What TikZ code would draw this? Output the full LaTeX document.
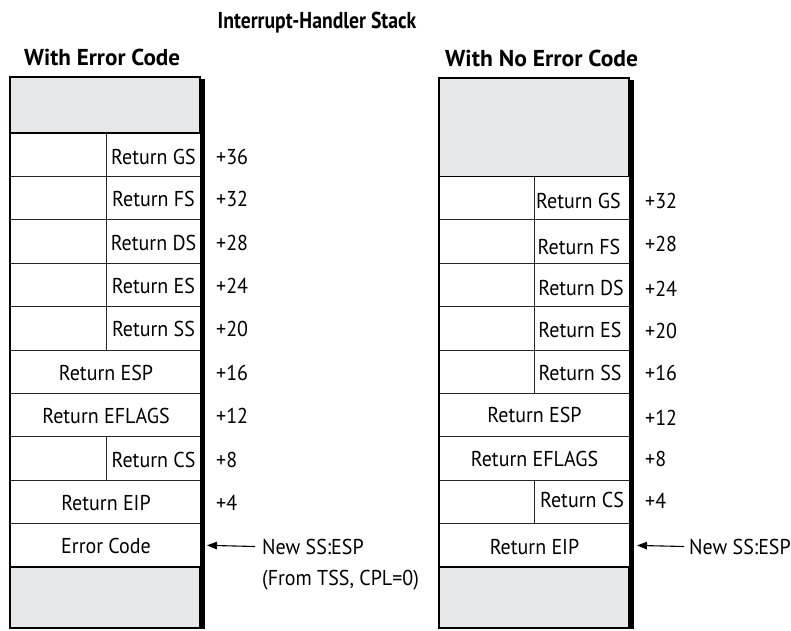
\documentclass[tikz,border=0pt]{standalone}
\usepackage{fontspec}
\setmainfont[FakeStretch=0.93]{PT Sans}
\usetikzlibrary{arrows.meta}
\definecolor{stackgray}{HTML}{E6E7E8}
\begin{document}
\begin{tikzpicture}[x=1pt,y=-1pt,
  cell/.style={draw=black!85, line width=1pt, inner sep=0pt, outer sep=0pt, anchor=north west, minimum height=43.4pt},
  lA/.style={cell, minimum width=96pt},
  lB/.style={cell, minimum width=94pt},
  rA/.style={cell, minimum width=95pt},
  rB/.style={cell, minimum width=95pt},
  full/.style={cell, minimum width=190pt},
  graybox/.style={draw=black, fill=stackgray, line width=1.8pt, inner sep=0pt, outer sep=0pt, anchor=north west, minimum width=190pt},
  lab/.style={font=\fontsize{21.5}{26}\selectfont, inner sep=0pt, text height=15pt, text depth=0pt},
  off/.style={lab, anchor=west},
  head/.style={font=\fontsize{23}{28}\selectfont\bfseries, inner sep=0pt, text height=16pt, text depth=0pt},
  frame/.style={line width=1.8pt},
  ptr/.style={-{Triangle[length=10pt,width=7.5pt]}, line width=1.1pt}
]
\useasboundingbox (0,0) rectangle (791,630);

% titles
\node[head] (title) at (317,20) {\scalebox{0.92}[1]{Interrupt-Handler Stack}};
\node[head, anchor=west] (hL) at (24,57.5) {\scalebox{1.08}[1]{With Error Code}};
\node[head, anchor=west] (hR) at (445,58.5) {\scalebox{1.1}[1]{With No Error Code}};

% ---------------- left stack ----------------
\node[lA] (l0a) at (10,133) {};   \node[lB] (l0) at (106,133) {};
\node[lA] (l1a) at (10,176.4) {}; \node[lB] (l1) at (106,176.4) {};
\node[lA] (l2a) at (10,219.8) {}; \node[lB] (l2) at (106,219.8) {};
\node[lA] (l3a) at (10,263.2) {}; \node[lB] (l3) at (106,263.2) {};
\node[lA] (l4a) at (10,306.6) {}; \node[lB] (l4) at (106,306.6) {};
\node[full] (l5) at (10,350) {};
\node[full] (l6) at (10,393.4) {};
\node[lA] (l7a) at (10,436.8) {}; \node[lB] (l7) at (106,436.8) {};
\node[full] (l8) at (10,480.2) {};
\node[full] (l9) at (10,523.6) {};
\node[graybox, minimum height=56pt] (ltop) at (10,77) {};
\node[graybox, minimum height=61pt] (lbot) at (10,567) {};

\node[lab] (tl0) at (153.5,156.5) {Return GS};
\node[lab] (tl1) at (153.5,199.1) {Return FS};
\node[lab] (tl2) at (153.5,242.5) {Return DS};
\node[lab] (tl3) at (153.5,285.9) {Return ES};
\node[lab] (tl4) at (153.5,329) {Return SS};
\node[lab] (tl5) at (106,372.5) {Return ESP};
\node[lab] (tl6) at (106,416.1) {Return EFLAGS};
\node[lab] (tl7) at (153.5,459.5) {Return CS};
\node[lab] (tl8) at (106,502.9) {Return EIP};
\node[lab] (tl9) at (106,546.3) {Error Code};

\node[off] (ol0) at (216,156.5) {+36};
\node[off] (ol1) at (216,199.1) {+32};
\node[off] (ol2) at (216,242.5) {+28};
\node[off] (ol3) at (216,285.9) {+24};
\node[off] (ol4) at (216,329) {+20};
\node[off] (ol5) at (216,372.5) {+16};
\node[off] (ol6) at (216,416.1) {+12};
\node[off] (ol7) at (216,459.5) {+8};
\node[off] (ol8) at (216,502.9) {+4};

\draw[frame] (ltop.north east) -- (ltop.north west) -- (lbot.south west) -- (lbot.south east);
\fill ([yshift=-2pt]ltop.north east) rectangle ([xshift=5pt,yshift=-1pt]lbot.south east);

\node[off] (lnew) at (262,546.5) {New SS:ESP};
\node[off] (lfrom) at (262,577.5) {(From TSS, CPL=0)};
\draw[ptr] ([xshift=-7pt]lnew.west) -- ([xshift=7pt]l9.east);

% ---------------- right stack ----------------
\node[rA] (r0a) at (439,176.5) {};   \node[rB] (r0) at (534,176.5) {};
\node[rA] (r1a) at (439,219.9) {}; \node[rB] (r1) at (534,219.9) {};
\node[rA] (r2a) at (439,263.3) {}; \node[rB] (r2) at (534,263.3) {};
\node[rA] (r3a) at (439,306.7) {}; \node[rB] (r3) at (534,306.7) {};
\node[rA] (r4a) at (439,350.1) {}; \node[rB] (r4) at (534,350.1) {};
\node[full] (r5) at (439,393.5) {};
\node[full] (r6) at (439,436.9) {};
\node[rA] (r7a) at (439,480.3) {}; \node[rB] (r7) at (534,480.3) {};
\node[full] (r8) at (439,523.7) {};
\node[graybox, minimum height=98.5pt] (rtop) at (439,78) {};
\node[graybox, minimum height=61pt] (rbot) at (439,567) {};

\node[lab] (tr0) at (578.5,201) {Return GS};
\node[lab] (tr1) at (579,246.5) {Return FS};
\node[lab] (tr2) at (581,287.5) {Return DS};
\node[lab] (tr3) at (580,329.5) {Return ES};
\node[lab] (tr4) at (580,373) {Return SS};
\node[lab] (tr5) at (534.5,415) {Return ESP};
\node[lab] (tr6) at (534.5,458.5) {Return EFLAGS};
\node[lab] (tr7) at (582,499.5) {Return CS};
\node[lab] (tr8) at (534.5,546.5) {Return EIP};

\node[off] (or0) at (645,201) {+32};
\node[off] (or1) at (645,243.5) {+28};
\node[off] (or2) at (645,288.5) {+24};
\node[off] (or3) at (645,330.5) {+20};
\node[off] (or4) at (645,373) {+16};
\node[off] (or5) at (645,418) {+12};
\node[off] (or6) at (645,459) {+8};
\node[off] (or7) at (645,500.5) {+4};

\draw[frame] (rtop.north east) -- (rtop.north west) -- (rbot.south west) -- (rbot.south east);
\fill ([yshift=-2pt]rtop.north east) rectangle ([xshift=4.5pt,yshift=-1pt]rbot.south east);

\node[off] (rnew) at (689,546.5) {New SS:ESP};
\draw[ptr] ([xshift=-5pt]rnew.west) -- ([xshift=8pt]r8.east);
\end{tikzpicture}
\end{document}
